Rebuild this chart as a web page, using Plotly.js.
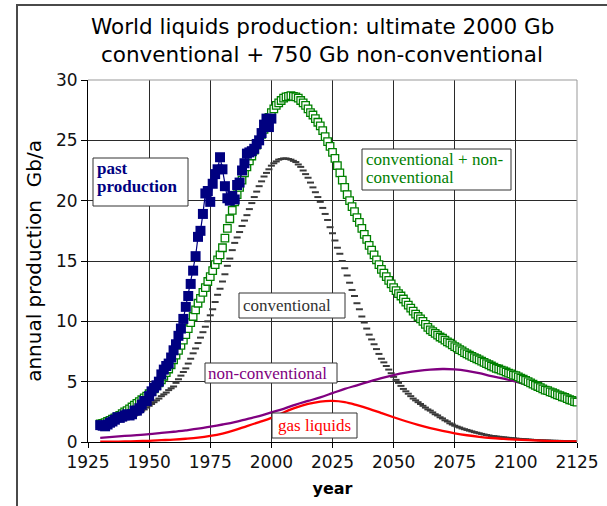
<!DOCTYPE html>
<html>
<head>
<meta charset="utf-8">
<script src="https://cdn.plot.ly/plotly-3.0.1.min.js"></script>
<style>
html,body{margin:0;padding:0;background:#fff;}
#wrap{position:relative;width:607px;height:506px;}
#chart{width:607px;height:506px;}
#frame{position:absolute;left:16px;top:4px;width:600px;height:510px;border-left:2px solid #4a4a4a;border-top:2px solid #4a4a4a;pointer-events:none;}
</style>
</head>
<body>
<div id="wrap"><div id="chart"></div><div id="frame"></div></div>
<script>
// ---- data (Gb/a) ----
const pastStart = 1930;
const pastProduction = [
1.4,1.35,1.3,1.45,1.6,1.7,1.85,2.05,2.0,2.1,
2.2,2.3,2.2,2.3,2.6,2.6,2.8,3.1,3.4,3.4,
3.8,4.2,4.5,4.7,5.0,5.6,6.0,6.3,6.5,7.0,
7.6,8.1,8.8,9.4,10.2,11.2,12.1,13.1,14.2,15.4,
17.0,17.5,18.9,20.6,20.8,19.9,21.4,22.2,22.6,23.6,
22.6,21.2,20.2,20.0,20.4,20.1,21.3,21.5,22.5,23.1,
23.9,24.0,24.1,24.3,24.7,25.0,25.6,26.3,26.8,26.1,
26.8];

const forecastStart = 1930;
const convPlusNonConv = [
1.5,1.55,1.6,1.7,1.8,1.9,2.0,2.1,2.2,2.35,
2.5,2.6,2.75,2.9,3.05,3.2,3.35,3.5,3.65,3.8,
4.0,4.2,4.4,4.65,4.9,5.15,5.45,5.75,6.05,6.4,
6.8,7.2,7.6,8.0,8.45,8.9,9.4,9.9,10.4,10.95,
11.5,11.9,12.4,12.8,13.3,13.7,14.2,14.7,15.1,15.5,
16.1,16.9,17.7,18.5,19.2,19.9,20.5,21.1,21.7,22.3,
22.8,23.3,23.7,24.2,24.6,25.0,25.5,25.9,26.4,26.9,
27.3,27.6,27.9,28.1,28.3,28.5,28.6,28.65,28.7,28.65,
28.6,28.5,28.3,28.1,27.9,27.6,27.3,27.1,26.8,26.5,
26.2,25.8,25.3,24.9,24.5,24.0,23.5,22.9,22.3,21.7,
21.1,20.5,20.0,19.5,19.1,18.6,18.2,17.7,17.2,16.8,
16.3,15.9,15.5,15.1,14.7,14.3,14.0,13.7,13.4,13.1,
12.8,12.55,12.3,12.1,11.85,11.6,11.35,11.1,10.85,10.6,
10.4,10.2,10.0,9.75,9.5,9.3,9.15,9.0,8.85,8.7,
8.6,8.45,8.3,8.2,8.05,7.9,7.8,7.65,7.55,7.4,
7.3,7.2,7.1,7.0,6.9,6.8,6.7,6.6,6.5,6.4,
6.3,6.2,6.1,6.05,5.95,5.9,5.8,5.7,5.65,5.55,
5.5,5.4,5.3,5.2,5.1,5.0,4.9,4.8,4.7,4.6,
4.5,4.4,4.3,4.25,4.15,4.1,4.0,3.9,3.85,3.75,
3.7,3.6,3.5,3.45,3.35,3.3];

const conventional = [
1.2,1.25,1.3,1.4,1.45,1.5,1.6,1.7,1.75,1.85,
1.9,2.0,2.05,2.15,2.2,2.3,2.45,2.6,2.7,2.85,
3.0,3.15,3.3,3.45,3.6,3.8,3.95,4.1,4.3,4.45,
4.6,4.9,5.2,5.5,5.8,6.1,6.5,6.9,7.35,7.75,
8.2,8.65,9.1,9.55,10.0,10.5,11.0,11.6,12.2,12.7,
13.3,13.9,14.6,15.2,15.9,16.5,16.95,17.4,17.9,18.35,
18.8,19.3,19.8,20.3,20.75,21.2,21.6,22.0,22.3,22.6,
22.9,23.1,23.25,23.4,23.45,23.5,23.5,23.45,23.4,23.3,
23.2,23.0,22.8,22.5,22.2,21.9,21.5,21.1,20.7,20.3,
19.9,19.4,18.9,18.4,17.8,17.3,16.7,16.1,15.6,15.0,
14.4,13.8,13.2,12.6,12.1,11.5,11.0,10.4,9.9,9.4,
8.9,8.5,8.1,7.7,7.3,6.9,6.6,6.3,6.0,5.7,
5.4,5.15,4.9,4.65,4.4,4.2,4.0,3.8,3.6,3.45,
3.3,3.15,3.0,2.85,2.7,2.6,2.45,2.3,2.2,2.05,
1.95,1.8,1.7,1.55,1.45,1.35,1.27,1.2,1.12,1.06,
1.0,0.94,0.88,0.82,0.77,0.72,0.67,0.62,0.58,0.54,
0.5,0.48,0.45,0.43,0.4,0.38,0.36,0.34,0.32,0.3,
0.28,0.26,0.25,0.23,0.22,0.2,0.19,0.17,0.16,0.15,
0.14,0.13,0.12,0.12,0.11,0.1,0.1,0.09,0.09,0.08,
0.07,0.07,0.06,0.06,0.05,0.05];

const curveYears = [1930,1935,1940,1945,1950,1955,1960,1965,1970,1975,
1980,1985,1990,1995,2000,2005,2010,2015,2020,2025,
2030,2035,2040,2045,2050,2055,2060,2065,2070,2075,
2080,2085,2090,2095,2100,2105,2110,2115,2120,2125];
const nonConventional = [0.35,0.42,0.5,0.57,0.65,0.75,0.85,0.97,1.1,1.27,
1.45,1.65,1.9,2.15,2.45,2.75,3.1,3.4,3.7,4.05,
4.4,4.7,5.0,5.3,5.55,5.75,5.9,6.0,6.05,6.02,
5.9,5.7,5.45,5.25,5.0,4.7,4.45,4.1,3.7,3.25];
const gasLiquids = [0.02,0.03,0.05,0.07,0.1,0.15,0.2,0.27,0.36,0.5,
0.7,0.98,1.32,1.65,2.0,2.45,2.85,3.15,3.35,3.4,
3.3,3.05,2.75,2.4,2.05,1.72,1.42,1.15,0.92,0.72,
0.56,0.43,0.33,0.26,0.2,0.15,0.11,0.08,0.06,0.05];

const xTicks = [1925,1950,1975,2000,2025,2050,2075,2100,2125];
const yTicks = [0,5,10,15,20,25,30];

// ---- build ----
function yearsFrom(start, n){ const a=[]; for(let i=0;i<n;i++) a.push(start+i); return a; }
const pastYears = yearsFrom(pastStart, pastProduction.length);
const fcYears = yearsFrom(forecastStart, convPlusNonConv.length);
const convYears = yearsFrom(forecastStart, conventional.length);

const traces = [
  {x: convYears, y: conventional, mode:'markers', type:'scatter',
   marker:{symbol:'line-ew', size:5, color:'#3a3a3a', line:{color:'#3a3a3a', width:2}}},
  {x: curveYears, y: nonConventional, mode:'lines', type:'scatter',
   line:{color:'#800080', width:2.3, shape:'spline'}},
  {x: curveYears, y: gasLiquids, mode:'lines', type:'scatter',
   line:{color:'#ff0000', width:2.3, shape:'spline'}},
  {x: fcYears, y: convPlusNonConv, mode:'markers', type:'scatter',
   marker:{symbol:'square', size:7.5, color:'#ffffff', line:{color:'#008000', width:1.3}}},
  {x: pastYears, y: pastProduction, mode:'lines+markers', type:'scatter',
   line:{color:'#000080', width:1.2},
   marker:{symbol:'square', size:10, color:'#000080'}}
];

// plot area in pixels: x 88..577, y 80..442
const L=88, R=577, T=80, B=442;
const px = v => (v-L)/(R-L);
const py = v => (B-v)/(B-T);

function box(x0,y0,x1,y1){
  return {type:'rect', xref:'paper', yref:'paper', x0:px(x0), x1:px(x1), y0:py(y1), y1:py(y0),
          fillcolor:'#ffffff', line:{color:'#333', width:1}, layer:'above'};
}
function label(text, x, y, color, bold){
  return {text: bold ? '<b>'+text+'</b>' : text, xref:'paper', yref:'paper', x:px(x), y:py(y),
          xanchor:'left', yanchor:'middle', showarrow:false,
          font:{family:'Liberation Serif, Times New Roman, serif', size:17, color:color}};
}
const sans = 'DejaVu Sans, Verdana, sans-serif';
function titleLine(text, y){
  return {text:text, xref:'paper', yref:'paper', x:px(322), y:py(y),
          xanchor:'center', yanchor:'middle', showarrow:false,
          font:{family:sans, size:21.5, color:'#000'}};
}

const shapes = [
  // plot border top/right (gray)
  {type:'line', xref:'paper', yref:'paper', x0:0, x1:1, y0:1, y1:1, line:{color:'#999', width:1}},
  {type:'line', xref:'paper', yref:'paper', x0:1, x1:1, y0:0, y1:1, line:{color:'#999', width:1}},
  box(93,158,188,206),
  box(362,149,511,190),
  box(239,293,345,318),
  box(205,363,337,383),
  box(272,413,357,438)
];

const annotations = [
  titleLine('World liquids production: ultimate 2000 Gb', 27),
  titleLine('conventional + 750 Gb non-conventional', 54),
  label('past', 95, 168, '#000080', true),
  label('production', 95, 186, '#000080', true),
  label('conventional + non-', 364, 159, '#008000', false),
  label('conventional', 364, 177, '#008000', false),
  label('conventional', 241, 305, '#333333', false),
  label('non-conventional', 206, 373, '#800080', false),
  label('gas liquids', 276, 425, '#ff0000', false)
];

const layout = {
  width:607, height:506,
  margin:{l:L, r:607-R, t:T, b:506-B, pad:0},
  paper_bgcolor:'#ffffff', plot_bgcolor:'#ffffff',
  showlegend:false,
  xaxis:{range:[1925,2125], tickvals:xTicks, ticktext:xTicks.map(String),
         showgrid:true, gridcolor:'#2a2a2a', gridwidth:1,
         showline:true, linecolor:'#000', linewidth:1,
         ticks:'outside', ticklen:5, tickcolor:'#000',
         tickfont:{family:sans, size:17, color:'#111'},
         zeroline:false, fixedrange:true,
         title:{text:'<b>year</b>', font:{family:sans, size:16, color:'#000'}, standoff:11}},
  yaxis:{range:[0,30], tickvals:yTicks, ticktext:yTicks.map(String),
         showgrid:true, gridcolor:'#2a2a2a', gridwidth:1,
         showline:true, linecolor:'#000', linewidth:1,
         ticks:'outside', ticklen:6, tickcolor:'#000',
         tickfont:{family:sans, size:17, color:'#111'},
         zeroline:false, fixedrange:true,
         title:{text:'annual production \u00a0Gb/a', font:{family:sans, size:20, color:'#000'}, standoff:8}},
  shapes: shapes,
  annotations: annotations
};

Plotly.newPlot('chart', traces, layout, {displayModeBar:false, staticPlot:true});
</script>
</body>
</html>
